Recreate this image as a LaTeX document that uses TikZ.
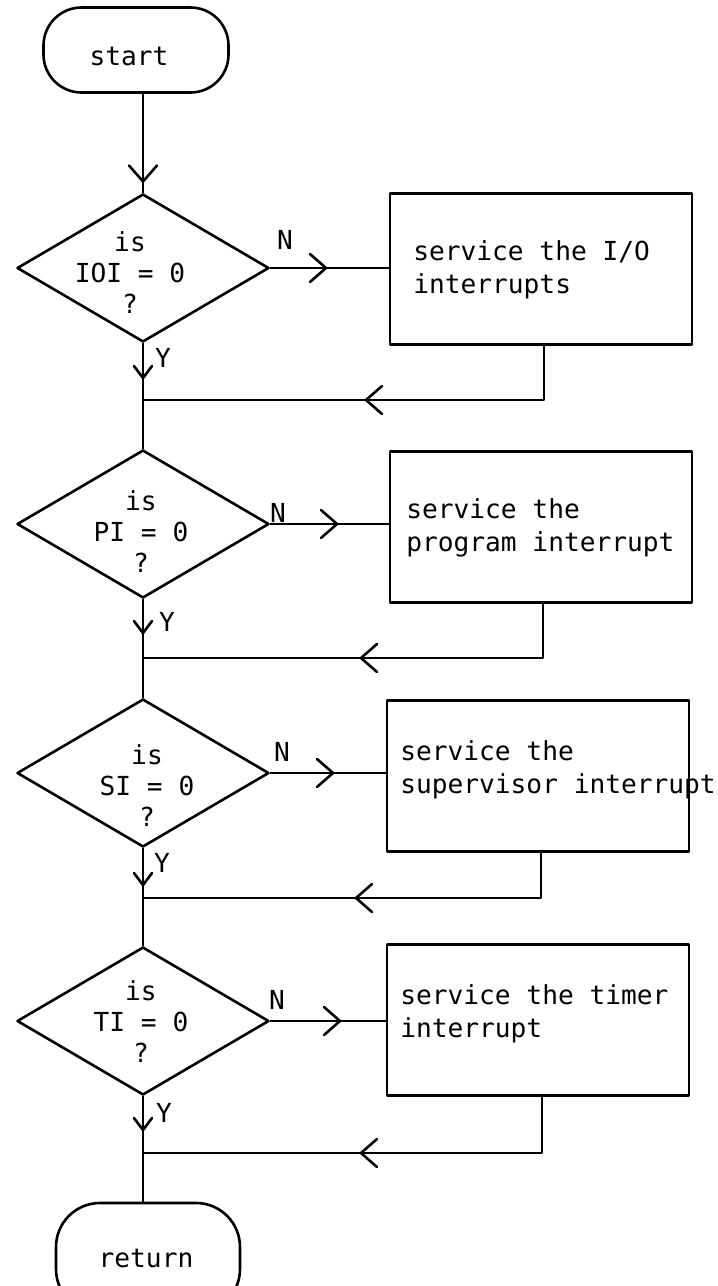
\documentclass[tikz,border=0pt]{standalone}
\usepackage{fontspec}
\setmainfont{DejaVu Sans Mono}
\usetikzlibrary{shapes.geometric,arrows.meta,decorations.markings}
\tikzset{
  term/.style={draw, rounded corners=19pt, minimum width=92.5pt, minimum height=42.5pt, inner sep=0pt},
  dec/.style={draw, diamond, minimum width=126pt, minimum height=74pt, inner sep=0pt},
  proc/.style={draw, rectangle, minimum width=151pt, minimum height=75.5pt, inner sep=0pt},
  ttxt/.style={font=\fontsize{13.1pt}{15.5pt}\selectfont, inner sep=0pt},
  dtxt/.style={font=\fontsize{13.1pt}{15.5pt}\selectfont, align=center, inner sep=0pt},
  btxt/.style={font=\fontsize{13.1pt}{16.5pt}\selectfont, align=left, anchor=west, inner sep=0pt},
  lbl/.style={font=\fontsize{13.1pt}{15.5pt}\selectfont, inner sep=0pt},
  arr/.style={postaction={decorate,decoration={markings,mark=at position #1 with {\arrow{Straight Barb[length=8pt,width=14pt,round]}}}}},
  sarr/.style={postaction={decorate,decoration={markings,mark=at position #1 with {\arrow{Straight Barb[length=6pt,width=9pt,round]}}}}},
}
\begin{document}
\begin{tikzpicture}[x=0.5pt,y=-0.5pt,line width=1.3pt,line join=round]
\useasboundingbox (0,0) rectangle (718,1286);
\fill[white] (0,0) rectangle (718,1286);
\clip (0,0) rectangle (718,1286);

% terminals
\node[term] (start) at (136,50) {};
\node[ttxt] (startt) at (129,56) {start};
\node[term, minimum width=92pt, minimum height=55pt, rounded corners=22pt] (ret) at (148,1258) {};
\node[ttxt] (rett) at (146,1258) {return};

% decisions
\node[dec] (d1) at (143,268) {};
\node[dec] (d2) at (143,524) {};
\node[dec] (d3) at (143,773) {};
\node[dec] (d4) at (143,1021) {};
\node[dtxt] (d1t) at (130,273) {is\\IOI = 0\\?};
\node[dtxt] (d2t) at (141,532) {is\\PI = 0\\?};
\node[dtxt] (d3t) at (147,786) {is\\SI = 0\\?};
\node[dtxt] (d4t) at (141,1022) {is\\TI = 0\\?};

% processes
\node[proc] (b1) at (541,269) {};
\node[proc] (b2) at (541,527) {};
\node[proc] (b3) at (538,776) {};
\node[proc] (b4) at (538,1020) {};
\node[btxt] (b1t) at (412,270) {service the I/O\\interrupts};
\node[btxt] (b2t) at (405,528) {service the\\program interrupt};
\node[btxt] (b3t) at (399,770) {service the\\supervisor interrupt};
\node[btxt] (b4t) at (399,1014) {service the timer\\interrupt};

% labels
\node[lbl] (n1) at (285,240) {N};
\node[lbl] (n2) at (278,513) {N};
\node[lbl] (n3) at (282,752) {N};
\node[lbl] (n4) at (277,1000) {N};
\node[lbl] (y1) at (163,358) {Y};
\node[lbl] (y2) at (167,622) {Y};
\node[lbl] (y3) at (162,863) {Y};
\node[lbl] (y4) at (164,1113) {Y};

% merge coordinates
\coordinate (m1) at (143,400);
\coordinate (m2) at (143,658);
\coordinate (m3) at (143,898);
\coordinate (m4) at (143,1153);
\coordinate (c1) at (544,400);
\coordinate (c2) at (543,658);
\coordinate (c3) at (541,898);
\coordinate (c4) at (542,1153);

% connectors
\draw[arr=44.5pt] (d1.north |- start.south) -- (d1.north);

\draw[arr=28.5pt] (d1.east) -- (d1.east -| b1.west);
\draw[arr=34pt] (d2.east) -- (d2.east -| b2.west);
\draw[arr=32pt] (d3.east) -- (d3.east -| b3.west);
\draw[arr=35.5pt] (d4.east) -- (d4.east -| b4.west);

\draw[sarr=18pt] (d1.south) -- (m1);
\draw (m1) -- (d2.north);
\draw[sarr=17.5pt] (d2.south) -- (m2);
\draw (m2) -- (d3.north);
\draw[sarr=19pt] (d3.south) -- (m3);
\draw (m3) -- (d4.north);
\draw[sarr=17.5pt] (d4.south) -- (m4);
\draw (m4) -- (m4 |- ret.north);

\draw[arr=116.75pt] (b1.south -| c1) -- (c1) -- (m1);
\draw[arr=118.75pt] (b2.south -| c2) -- (c2) -- (m2);
\draw[arr=115.75pt] (b3.south -| c3) -- (c3) -- (m3);
\draw[arr=119.25pt] (b4.south -| c4) -- (c4) -- (m4);
\end{tikzpicture}
\end{document}
